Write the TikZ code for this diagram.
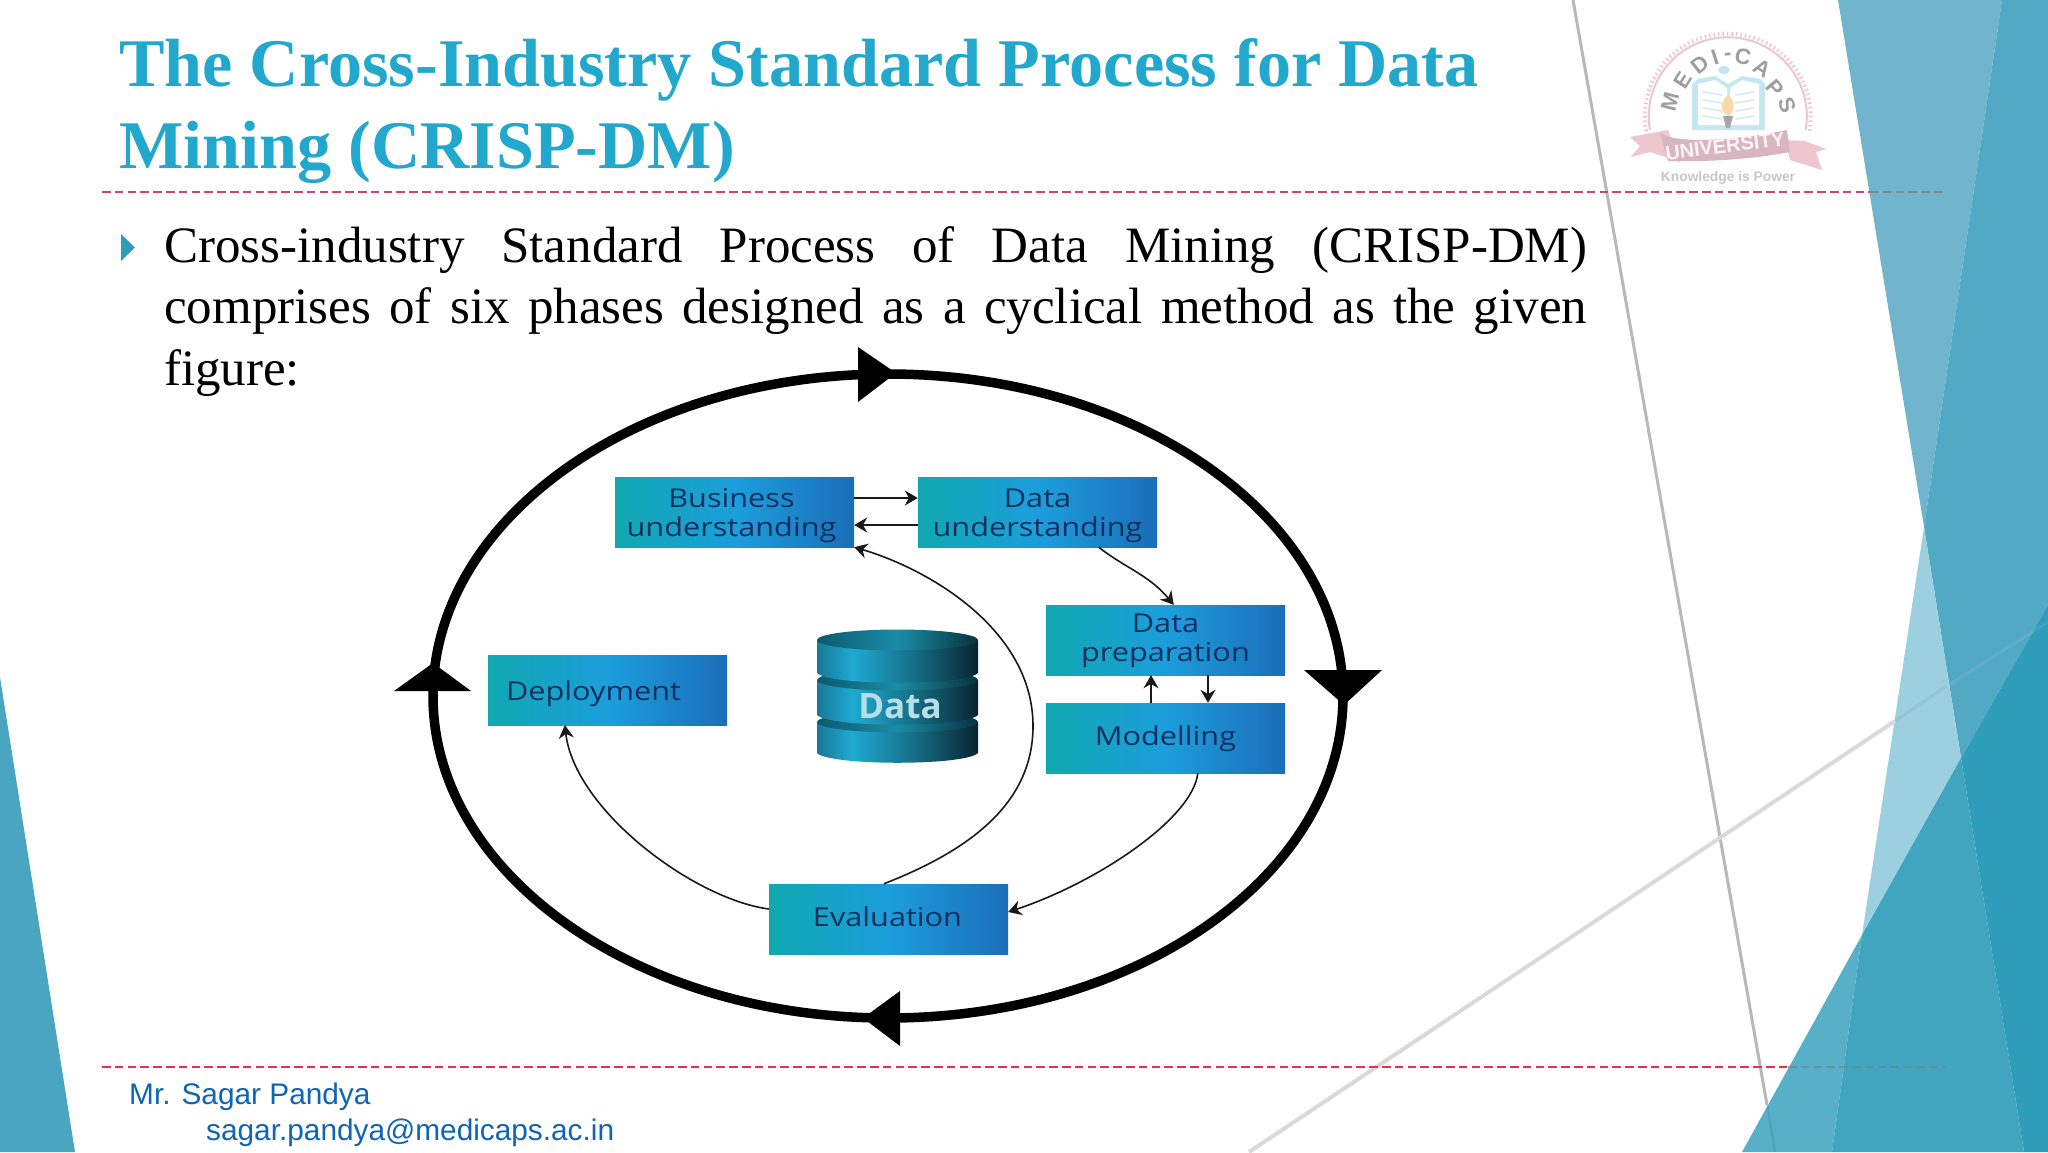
\documentclass[tikz,border=0pt]{standalone}
\usepackage{fontspec}
\setmainfont{Liberation Serif}
\newfontfamily\sansf{Liberation Sans}
\newfontfamily\boxf[FakeStretch=1.18]{Open Sans}
\newfontfamily\dataf{Open Sans}
\usetikzlibrary{arrows.meta,calc}
\definecolor{titlecol}{HTML}{22A8CC}
\definecolor{footcol}{HTML}{0F65B5}
\definecolor{dashtop}{HTML}{C9476B}
\definecolor{dashbot}{HTML}{E8304A}
\definecolor{boxtext}{HTML}{14305F}
\definecolor{pinklogo}{HTML}{EEC6D0}
\definecolor{ba}{RGB}{16,168,176}
\definecolor{bb}{RGB}{28,158,220}
\definecolor{bc}{RGB}{27,110,184}
\definecolor{da}{RGB}{24,120,150}
\definecolor{db}{RGB}{30,170,210}
\definecolor{dc}{RGB}{22,110,135}
\definecolor{dd}{RGB}{8,36,48}
\definecolor{ta}{RGB}{12,90,112}
\definecolor{tb}{RGB}{26,140,165}
\definecolor{tc}{RGB}{8,50,64}
\pgfdeclarehorizontalshading{bshade}{100bp}{color(0bp)=(ba);color(25bp)=(ba);color(50bp)=(bb);color(75bp)=(bc);color(100bp)=(bc)}
\pgfdeclarehorizontalshading{dshade}{100bp}{color(0bp)=(da);color(25bp)=(da);color(36bp)=(db);color(55bp)=(dc);color(75bp)=(dd);color(100bp)=(dd)}
\pgfdeclarehorizontalshading{tshade}{100bp}{color(0bp)=(ta);color(25bp)=(ta);color(50bp)=(tb);color(75bp)=(tc);color(100bp)=(tc)}
\tikzset{
  phase/.style={shade,shading=bshade,minimum width=239pt,minimum height=70pt,inner sep=0pt},
  phasetext/.style={inner sep=0pt,align=center,text=boxtext,font=\boxf\fontsize{26}{29}\selectfont},
  flow/.style={draw=black!90,line width=1.6pt,-{Stealth[length=13pt,width=15pt]}},
  bigtip/.style={fill=black,draw=none},
  logoletter/.style={font=\sansf\bfseries\fontsize{22}{22}\selectfont,text=black!38,inner sep=0pt},
}
\begin{document}
\begin{tikzpicture}[x=1pt,y=-1pt]
\useasboundingbox (0,0) rectangle (2048,1152);
\fill[white] (0,0) rectangle (2048,1152);
% background facets
\fill[fill={rgb,255:red,74;green,166;blue,192}] (0,677) -- (75,1152) -- (0,1152) -- cycle;
\fill[fill={rgb,255:red,112;green,181;blue,205}] (1838,0) -- (2002,0) -- (1924,527) -- cycle;
\fill[fill={rgb,255:red,82;green,169;blue,196}] (2002,0) -- (2048,0) -- (2048,605) -- (1961,758) -- (1924,527) -- cycle;
\fill[fill={rgb,255:red,156;green,208;blue,224}] (1924,527) -- (1961,758) -- (1862,935) -- cycle;
\fill[fill={rgb,255:red,87;green,175;blue,200}] (1742,1152) -- (1862,935) -- (1832,1152) -- cycle;
\fill[fill={rgb,255:red,66;green,165;blue,192}] (1862,935) -- (1961,758) -- (2024,1152) -- (1832,1152) -- cycle;
\fill[fill={rgb,255:red,47;green,157;blue,186}] (1961,758) -- (2048,605) -- (2048,1152) -- (2024,1152) -- cycle;
% thin lines of the template
\draw[black!28,line width=3pt] (1573,0) -- (1767,1105);
\draw[black!15,line width=4pt] (1249,1152) -- (1895,721);
\draw[black,opacity=.05,line width=3pt] (1895,721) -- (1947,686);
\draw[white,opacity=.08,line width=3pt] (1947,686) -- (2048,622);
\draw[black,opacity=.08,line width=2pt] (1767,1105) -- (1775,1152);
% title
\node[anchor=base west,inner sep=0pt,text=titlecol,font=\bfseries\fontsize{68.2}{82}\selectfont] (title1) at (119,86) {The Cross-Industry Standard Process for Data};
\node[anchor=base west,inner sep=0pt,text=titlecol,font=\bfseries\fontsize{68.2}{82}\selectfont] (title2) at (119,168) {Mining (CRISP-DM)};
% dashed rules
\draw[dashtop,line width=2pt,dash pattern=on 8.5pt off 4.3pt] (102,192) -- (1870,192);
\draw[black!45!cyan!30!gray,line width=2pt,dash pattern=on 8.5pt off 4.3pt] (1870,192) -- (1946,192);
\draw[dashbot,line width=1.8pt,dash pattern=on 8.5pt off 4.3pt] (102,1067) -- (1788,1067);
\draw[black!60!cyan!40!gray,opacity=.55,line width=1.8pt,dash pattern=on 8.5pt off 4.3pt] (1788,1067) -- (1945,1067);
% bullet and body
\fill[fill={rgb,255:red,47;green,157;blue,186}] (121,234) -- (135,247.5) -- (121,261) -- cycle;
\node[anchor=base west,inner sep=0pt,font=\fontsize{51}{61}\selectfont] (body) at (164,262) {\parbox[t]{1423pt}{\tolerance=9999\hyphenpenalty=10000\fontsize{51}{61.5}\selectfont Cross-industry Standard Process of Data Mining (CRISP-DM)\linebreak comprises of six phases designed as a cyclical method as the given\linebreak figure:}};
% footer
\node[anchor=base west,inner sep=0pt,text=footcol,font=\sansf\fontsize{29.8}{36}\selectfont] (foot1) at (129,1104) {Mr. Sagar Pandya};
\node[anchor=base west,inner sep=0pt,text=footcol,font=\sansf\fontsize{29.8}{36}\selectfont] (foot2) at (206,1140) {sagar.pandya@medicaps.ac.in};
% logo
\draw[pinklogo,line width=2pt] (1650,130) arc[start angle=190,end angle=-10,x radius=79pt,y radius=79pt];
\draw[pinklogo,line width=4pt,dash pattern=on 1.5pt off 3pt] (1646,131) arc[start angle=190,end angle=-10,x radius=83pt,y radius=83pt];
\foreach \L/\X/\Y/\R in {M/1670/102/76,E/1683/80/58,D/1700/65/38,I/1715/57/18,-/1728/57/5,C/1743/57/-12,A/1762/68/-32,P/1775/88/-50,S/1787/105/-72}{
  \node[logoletter,rotate=\R] at (\X,\Y) {\L};
}
\fill[fill={rgb,255:red,198;green,230;blue,240}] (1692,130) -- (1692,84) -- (1698,79) -- (1715,76) -- (1728,84) -- (1742,76) -- (1760,79) -- (1765,84) -- (1765,130) -- cycle;
\fill[white] (1698,125) -- (1698,84) -- (1715,80) -- (1727,88) -- (1727,125) -- cycle;
\fill[white] (1730,125) -- (1730,88) -- (1742,80) -- (1759,84) -- (1759,125) -- cycle;
\foreach \yy in {92,100,108,116}{
  \draw[draw={rgb,255:red,210;green,235;blue,243},line width=1.5pt] (1703,\yy) -- (1722,\yy+3);
  \draw[draw={rgb,255:red,210;green,235;blue,243},line width=1.5pt] (1735,\yy+3) -- (1754,\yy);
}
\fill[fill={rgb,255:red,198;green,230;blue,240}] (1724,70) ellipse[x radius=6pt,y radius=4pt];
\fill[fill={rgb,255:red,251;green,217;blue,170}] (1728,95) .. controls (1738,103) and (1733,115) .. (1728,115) .. controls (1722,115) and (1718,103) .. (1728,95);
\fill[black!35] (1723,116) -- (1733,116) -- (1730,128) -- (1726,128) -- cycle;
\fill[pinklogo] (1630,137) -- (1668,130) -- (1680,162) -- (1650,152) -- (1631,157) -- (1640,146) -- cycle;
\fill[pinklogo] (1785,140) -- (1805,141) -- (1826,149) -- (1816,152) -- (1822,170) -- (1790,160) -- cycle;
\fill[pinklogo!90!black!95] (1660,133) .. controls (1680,146) and (1750,138) .. (1787,130) -- (1790,152) .. controls (1750,160) and (1700,162) .. (1668,161) -- cycle;
\node[inner sep=0pt,rotate=7,text=white!80!pinklogo,font=\sansf\bfseries\fontsize{20}{20}\selectfont] (logouni) at (1725,146) {UNIVERSITY};
\node[inner sep=0pt,text=black!22,font=\sansf\bfseries\fontsize{13.8}{15}\selectfont] (logokp) at (1728,178) {Knowledge is Power};
% big cycle
\draw[black,line width=9.5pt] (888,696) ellipse[x radius=455pt,y radius=322pt];
\fill[bigtip] (896,373) -- (858,347) -- (858,402) -- cycle;
\fill[bigtip] (1344,705) -- (1304,670) -- (1382,670) -- cycle;
\fill[bigtip] (863,1018) -- (900,991) -- (900,1046) -- cycle;
\fill[bigtip] (433,663) -- (394,691) -- (471,691) -- cycle;
% data cylinder
\foreach \t/\b in {722/753,680/715,640/673}{
  \path[shade,shading=dshade] (817,\t) -- (817,\b) .. controls (830,{\b+13}) and (965,{\b+13}) .. (978,\b) -- (978,\t) -- cycle;
  \path[shade,shading=tshade] (897.5,\t) ellipse[x radius=80.5pt,y radius=10.5pt];
}
\node[inner sep=0pt,text={rgb,255:red,184;green,222;blue,232},font=\dataf\bfseries\fontsize{35}{35}\selectfont] (data) at (900,706) {Data};
% phases
\node[phase] (bu) at (734.5,512) {};
\node[phase] (du) at (1037.5,512) {};
\node[phase] (dp) at (1165.5,640) {};
\node[phase] (mo) at (1165.5,738) {};
\node[phase] (de) at (607.5,690) {};
\node[phase] (ev) at (888.5,919) {};
\node[phasetext,xshift=-3pt,yshift=-4pt] (butext) at (bu) {Business\\understanding};
\node[phasetext,yshift=-4pt] (dutext) at (du) {Data\\understanding};
\node[phasetext,yshift=-1pt] (dptext) at (dp) {Data\\preparation};
\node[phasetext,yshift=-1pt] (motext) at (mo) {Modelling};
\node[phasetext,xshift=-14pt,yshift=-4pt] (detext) at (de) {Deployment};
\node[phasetext,xshift=-1pt,yshift=2pt] (evtext) at (ev) {Evaluation};
% connectors
\draw[flow] ([yshift=14pt]bu.east) -- ([yshift=14pt]du.west);
\draw[flow] ([yshift=-13pt]du.west) -- ([yshift=-13pt]bu.east);
\draw[flow] ([xshift=181pt]du.south west) .. controls +(25,20) and +(-25,-30) .. ([xshift=128pt]dp.north west);
\draw[flow] ([xshift=-14.5pt]mo.north) -- ([xshift=-14.5pt]dp.south);
\draw[flow] ([xshift=42.5pt]dp.south) -- ([xshift=42.5pt]mo.north);
\draw[flow] ([xshift=152pt]mo.south west) .. controls +(-5,45) and +(90,-30) .. ([yshift=7pt]ev.east);
\coordinate (evbumid) at (1033,726);
\draw[flow] ([xshift=115pt]ev.north west) .. controls +(90,-35) and +(0,75) .. (evbumid) .. controls +(0,-96) and +(75,22) .. (bu.south east);
\draw[flow] ([yshift=10pt]ev.west) .. controls +(-75,-10) and +(10,85) .. ([xshift=77pt]de.south west);
\end{tikzpicture}
\end{document}
